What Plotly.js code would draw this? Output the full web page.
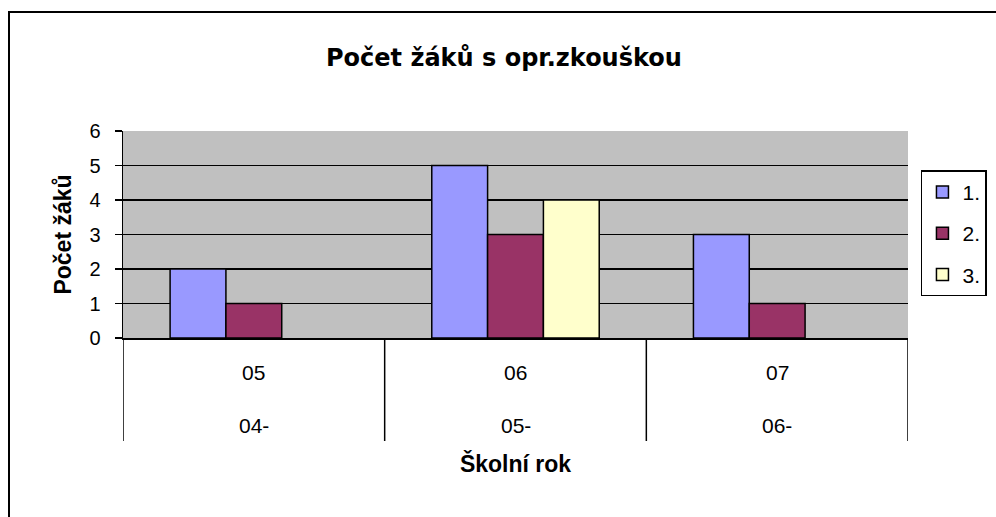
<!DOCTYPE html>
<html>
<head>
<meta charset="utf-8">
<script src="https://cdn.plot.ly/plotly-3.0.1.min.js"></script>
<style>
  html, body { margin: 0; padding: 0; background: #fff; }
  #wrap { position: relative; width: 996px; height: 517px; overflow: hidden; }
  #chart { position: absolute; left: 0; top: 0; width: 996px; height: 517px; }
  #frame { position: absolute; left: 8px; top: 11px; width: 1100px; height: 700px;
           border-left: 2px solid #000; border-top: 2px solid #000; pointer-events: none; }
</style>
</head>
<body>
<div id="wrap">
  <div id="chart"></div>
  <div id="frame"></div>
</div>
<script>
// ---- data ----
var categories   = ["04-05", "05-06", "06-07"];
var labelTop     = ["05", "06", "07"];
var labelBottom  = ["04-", "05-", "06-"];
var seriesNames  = ["1.", "2.", "3."];
var series1      = [2, 5, 3];
var series2      = [1, 3, 1];
var series3      = [null, 4, null];
var seriesColors = ["#9999FF", "#993366", "#FFFFCC"];
var yTicks       = [0, 1, 2, 3, 4, 5, 6];

var chartTitle = "Počet žáků s opr.zkouškou";
var xTitle = "Školní rok";
var yTitle = "Počet žáků";

// ---- traces ----
var seriesValues = [series1, series2, series3];
var xIdx = categories.map(function (c, i) { return i; });
var traces = seriesValues.map(function (vals, k) {
  return {
    type: "bar",
    name: seriesNames[k],
    legendgroup: "g" + k,
    x: xIdx,
    y: vals,
    marker: { color: seriesColors[k], line: { color: "#000", width: 1.5 } },
    hoverinfo: "skip"
  };
});

// ---- category labels and dividers ----
var annotations = [];
categories.forEach(function (c, i) {
  annotations.push({ xref: "x", yref: "paper", x: i, y: -0.169, text: labelTop[i],
    showarrow: false, yanchor: "middle", xanchor: "center",
    font: { family: "Liberation Sans, Arial, sans-serif", size: 21, color: "#000" } });
  annotations.push({ xref: "x", yref: "paper", x: i, y: -0.425, text: labelBottom[i],
    showarrow: false, yanchor: "middle", xanchor: "center",
    font: { family: "Liberation Sans, Arial, sans-serif", size: 21, color: "#000" } });
});
var shapes = [];
for (var i = 0; i <= categories.length; i++) {
  shapes.push({ type: "line", xref: "x", yref: "paper", x0: i - 0.5, x1: i - 0.5,
    y0: 0, y1: -0.4976, line: { color: "#000", width: 1.5 } });
}

var layout = {
  width: 996, height: 517,
  margin: { l: 123, r: 88, t: 131, b: 179, autoexpand: false },
  paper_bgcolor: "#fff",
  plot_bgcolor: "#C0C0C0",
  font: { family: "Liberation Sans, Arial, sans-serif", color: "#000" },
  title: {
    text: "<b>" + chartTitle + "</b>",
    x: 0.506, xanchor: "center", y: 0.888, yanchor: "middle",
    font: { family: "DejaVu Sans, Verdana, sans-serif", size: 24, color: "#000" }
  },
  barmode: "group",
  bargap: 0.36,
  bargroupgap: 0,
  showlegend: true,
  legend: {
    x: 1.0165, xanchor: "left", y: 0.81, yanchor: "top",
    bordercolor: "#000", borderwidth: 1.5, bgcolor: "#fff",
    traceorder: "grouped", tracegroupgap: 11, itemwidth: 30,
    font: { family: "Liberation Sans, Arial, sans-serif", size: 21, color: "#000" },
    itemclick: false
  },
  xaxis: {
    type: "linear",
    range: [-0.5, categories.length - 0.5],
    showticklabels: false, ticks: "", showgrid: false, zeroline: false,
    showline: true, linecolor: "#000", linewidth: 1.5,
    fixedrange: true,
    title: { text: "<b>" + xTitle + "</b>", standoff: 117,
      font: { family: "Liberation Sans, Arial, sans-serif", size: 23, color: "#000" } }
  },
  yaxis: {
    range: [0, 6],
    tickvals: yTicks, ticktext: yTicks.map(String),
    showgrid: true, gridcolor: "#000", gridwidth: 1.5,
    zeroline: false, showline: true, linecolor: "#000", linewidth: 1.5,
    ticks: "outside", ticklen: 7, tickwidth: 1.5, tickcolor: "#000",
    ticklabelstandoff: 10,
    tickfont: { family: "Liberation Sans, Arial, sans-serif", size: 20, color: "#000" },
    fixedrange: true,
    title: { text: "<b>" + yTitle + "</b>", standoff: 11,
      font: { family: "Liberation Sans, Arial, sans-serif", size: 23, color: "#000" } }
  },
  annotations: annotations,
  shapes: shapes
};

Plotly.newPlot("chart", traces, layout, { staticPlot: true, displayModeBar: false });
</script>
</body>
</html>
